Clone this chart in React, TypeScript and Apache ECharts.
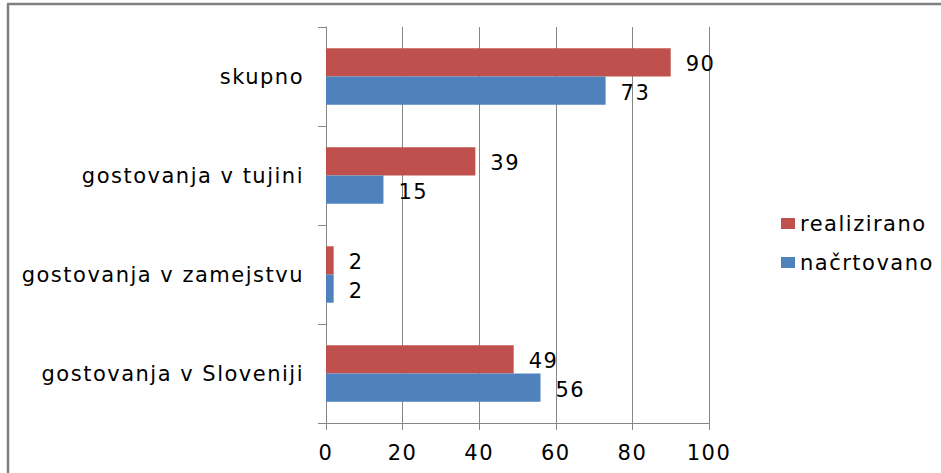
import React, { useEffect, useRef } from "react";
import * as echarts from "echarts";

const categories = [
  "gostovanja v Sloveniji",
  "gostovanja v zamejstvu",
  "gostovanja v tujini",
  "skupno",
];
const realizirano = [49, 2, 39, 90];
const nacrtovano = [56, 2, 15, 73];
const xTicks = [0, 20, 40, 60, 80, 100];

const FONT = "'DejaVu Sans', sans-serif";
const GRAY = "#868686";
const TEXT = "#000000";

export default function App() {
  const ref = useRef<HTMLDivElement>(null);
  useEffect(() => {
    if (!ref.current) return;
    const chart = echarts.init(ref.current, null, { renderer: "svg" });
    const label = {
      show: true,
      position: "right",
      distance: 15,
      offset: [0, 2],
      fontFamily: FONT,
      fontSize: 21,
      color: TEXT,
    };
    chart.setOption({
      animation: false,
      backgroundColor: "#ffffff",
      textStyle: { fontFamily: FONT },
      grid: { left: 326, right: 232, top: 27, bottom: 50, containLabel: false },
      legend: {
        orient: "vertical",
        left: 776,
        top: 208,
        itemWidth: 14,
        itemHeight: 11,
        itemGap: 18,
        icon: "rect",
        data: ["realizirano", "načrtovano"],
        textStyle: { fontFamily: FONT, fontSize: 21, color: TEXT, padding: [0, 0, 0, 0] },
      },
      xAxis: {
        type: "value",
        min: xTicks[0],
        max: xTicks[xTicks.length - 1],
        interval: 20,
        axisLine: { show: true, lineStyle: { color: GRAY, width: 1 } },
        axisTick: { show: true, length: 7, lineStyle: { color: GRAY } },
        splitLine: { show: true, lineStyle: { color: GRAY, width: 1 } },
        axisLabel: { fontFamily: FONT, fontSize: 21, color: TEXT, margin: 19 },
      },
      yAxis: {
        type: "category",
        data: categories,
        axisLine: { show: true, lineStyle: { color: GRAY, width: 1 } },
        axisTick: { show: true, length: 8, lineStyle: { color: GRAY } },
        axisLabel: { fontFamily: FONT, fontSize: 21, color: TEXT, margin: 22 },
      },
      series: [
        {
          name: "realizirano",
          type: "bar",
          data: realizirano,
          itemStyle: { color: "#C0504D" },
          barGap: "0%",
          barCategoryGap: "43%",
          label,
        },
        {
          name: "načrtovano",
          type: "bar",
          data: nacrtovano,
          itemStyle: { color: "#4F81BD" },
          barGap: "0%",
          barCategoryGap: "43%",
          label,
        },
      ],
      graphic: [
        {
          type: "line",
          shape: { x1: 8, y1: 4, x2: 8, y2: 473 },
          style: { stroke: "#808080", lineWidth: 2.5 },
        },
        {
          type: "line",
          shape: { x1: 7, y1: 4, x2: 941, y2: 4 },
          style: { stroke: "#808080", lineWidth: 2.5 },
        },
      ],
    });
    return () => chart.dispose();
  }, []);
  return (
    <>
      <style>{"#chart-box svg text { letter-spacing: 1.5px; }"}</style>
      <div
        id="chart-box"
        ref={ref}
        style={{ position: "fixed", left: 0, top: 0, width: 941, height: 473 }}
      />
    </>
  );
}
